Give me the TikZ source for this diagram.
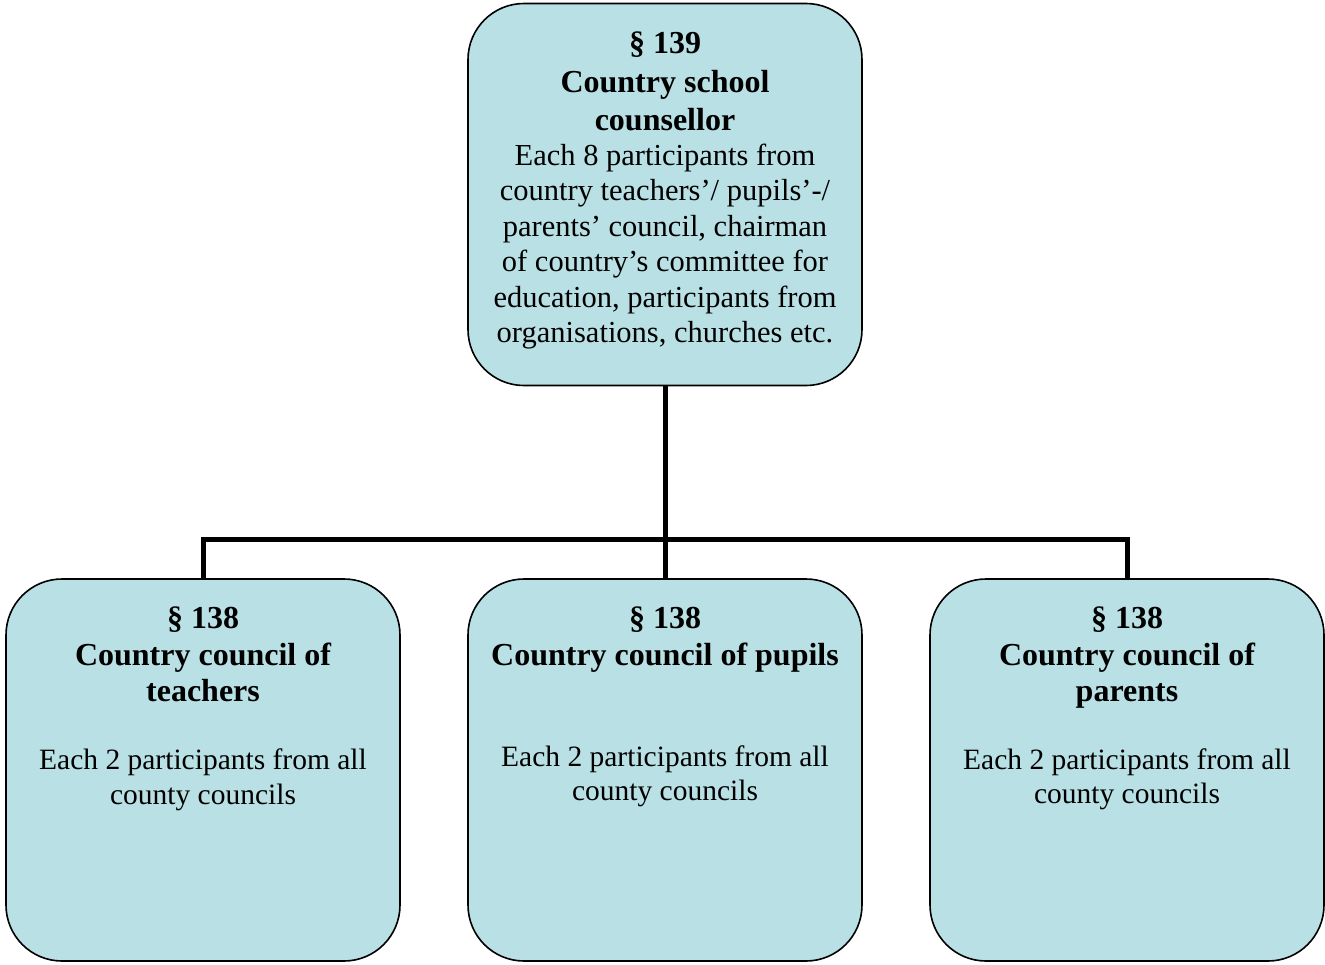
\documentclass[tikz,border=0pt]{standalone}
\usepackage{fontspec}
\setmainfont{Liberation Serif}
\definecolor{boxfill}{RGB}{185,224,228}
\tikzset{
  box/.style={draw=black, line width=1.6pt, fill=boxfill, rounded corners=56pt,
              minimum width=394pt, minimum height=382pt, inner sep=0pt, outer sep=0pt},
  conn/.style={draw=black, line width=5pt},
  hd/.style={anchor=base, inner sep=0pt, font=\fontsize{32}{38}\selectfont\bfseries},
  bd/.style={anchor=base, inner sep=0pt, font=\fontsize{30.5}{35}\selectfont},
  bds/.style={anchor=base, inner sep=0pt, font=\fontsize{29.5}{35}\selectfont}
}
\begin{document}
\begin{tikzpicture}[x=1pt, y=-1pt]
\useasboundingbox (0,0) rectangle (1325,964);
% boxes
\node[box] (top) at (665,194.5) {};
\node[box] (left) at (203,770) {};
\node[box] (mid) at (665,770) {};
\node[box] (right) at (1127,770) {};
% connectors
\draw[conn] (top.south) -- (mid.north);
\draw[conn] (left.north) -- ++(0,-40) coordinate (lc) -| (right.north);
% top text
\node[hd] (t1) at (665,53) {§ 139};
\node[hd] (t2) at (665,92) {Country school};
\node[hd] (t3) at (665,130) {counsellor};
\node[bd] (t4) at (665,165) {Each 8 participants from};
\node[bd] (t5) at (665,200.5) {country teachers’/ pupils’-/};
\node[bd] (t6) at (665,236) {parents’ council, chairman};
\node[bd] (t7) at (665,271.5) {of country’s committee for};
\node[bd] (t8) at (665,307) {education, participants from};
\node[bd] (t9) at (665,342.5) {organisations, churches etc.};
% left text
\node[hd] (l1) at (203,628) {§ 138};
\node[hd] (l2) at (203,665) {Country council of};
\node[hd] (l3) at (203,701) {teachers};
\node[bds] (l4) at (203,769) {Each 2 participants from all};
\node[bds] (l5) at (203,804) {county councils};
% middle text
\node[hd] (m1) at (665,628) {§ 138};
\node[hd] (m2) at (665,665) {Country council of pupils};
\node[bds] (m3) at (665,766) {Each 2 participants from all};
\node[bds] (m4) at (665,800) {county councils};
% right text
\node[hd] (r1) at (1127,628) {§ 138};
\node[hd] (r2) at (1127,665) {Country council of};
\node[hd] (r3) at (1127,701) {parents};
\node[bds] (r4) at (1127,769) {Each 2 participants from all};
\node[bds] (r5) at (1127,803) {county councils};
\end{tikzpicture}
\end{document}
